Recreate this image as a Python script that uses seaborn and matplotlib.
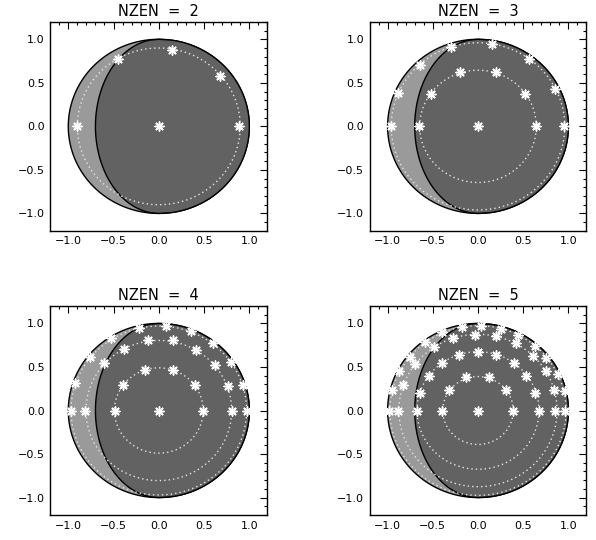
import numpy as np
import pandas as pd
import seaborn as sns
import matplotlib.pyplot as plt
from matplotlib.ticker import MultipleLocator

# ------------------------------------------------------------------
# data
# ------------------------------------------------------------------
NZEN = [2, 3, 4, 5]
TERMINATOR = 0.7   # x half-width of the terminator ellipse

# NZEN = 2
x2 = [0.0, 0.89, 0.68, 0.15, -0.45, -0.90]
y2 = [0.0, 0.0, 0.58, 0.88, 0.77, 0.0]
rings2 = [0.90]

# NZEN = 3
x3 = [0.0,
      0.64, 0.52, 0.20, -0.20, -0.52, -0.65,
      0.95, 0.85, 0.56, 0.15, -0.30, -0.64, -0.88, -0.96]
y3 = [0.0,
      0.0, 0.37, 0.62, 0.62, 0.37, 0.0,
      0.0, 0.43, 0.77, 0.95, 0.91, 0.71, 0.38, 0.0]
rings3 = [0.645, 0.96]

# NZEN = 4
x4 = [0.0,
      0.49, 0.40, 0.16, -0.15, -0.395, -0.487,
      0.805, 0.76, 0.62, 0.41, 0.16, -0.118, -0.384, -0.606, -0.81,
      0.97, 0.927, 0.797, 0.60, 0.354, 0.078, -0.218, -0.524, -0.764, -0.93, -0.975]
y4 = [0.0,
      0.0, 0.29, 0.47, 0.47, 0.29, 0.0,
      0.0, 0.28, 0.52, 0.69, 0.81, 0.81, 0.71, 0.54, 0.0,
      0.0, 0.29, 0.56, 0.77, 0.91, 0.97, 0.95, 0.83, 0.615, 0.32, 0.0]
rings4 = [0.49, 0.805, 0.97]

# NZEN = 5
x5 = [0.0,
      0.39, 0.314, 0.118, -0.128, -0.32, -0.394,
      0.672, 0.635, 0.536, 0.395, 0.203, 0.0, -0.21, -0.40, -0.546, -0.646, -0.675,
      0.849, 0.842, 0.75, 0.609, 0.417, 0.196, -0.037, -0.277, -0.487, -0.70, -0.83, -0.886,
      0.96, 0.96, 0.886, 0.757, 0.628, 0.443, 0.251, 0.037, -0.173, -0.394, -0.59, -0.749,
      -0.878, -0.952, -0.985]
y5 = [0.0,
      0.0, 0.23, 0.38, 0.38, 0.23, 0.0,
      0.0, 0.20, 0.40, 0.55, 0.64, 0.67, 0.64, 0.55, 0.40, 0.20, 0.0,
      0.0, 0.23, 0.45, 0.63, 0.78, 0.85, 0.87, 0.83, 0.73, 0.53, 0.29, 0.0,
      0.0, 0.22, 0.42, 0.60, 0.74, 0.865, 0.94, 0.97, 0.96, 0.90, 0.79, 0.62,
      0.45, 0.23, 0.0]
rings5 = [0.39, 0.675, 0.875, 0.975]

PANELS = [(x2, y2, rings2), (x3, y3, rings3), (x4, y4, rings4), (x5, y5, rings5)]

# axes boxes in figure fractions (left, bottom, width, height)
BOXES = [
    (0.0842, 0.5725, 0.3645, 0.3870),
    (0.6200, 0.5725, 0.3640, 0.3870),
    (0.0842, 0.0463, 0.3645, 0.3870),
    (0.6200, 0.0463, 0.3640, 0.3870),
]

LIGHT = "#9a9a9a"
DARK = "#626262"

sns.set_style("white")
plt.rcParams["font.family"] = ["DejaVu Sans"]

fig = plt.figure(figsize=(5.96, 5.40), dpi=100)

t = np.linspace(0, 2 * np.pi, 361)
yy = np.linspace(1, -1, 201)

for n, (xs, ys, rings), box in zip(NZEN, PANELS, BOXES):
    ax = fig.add_axes(box)

    # full disc (light crescent shows on the left)
    ax.fill(np.cos(t), np.sin(t), facecolor=LIGHT, edgecolor="black", lw=1.0, zorder=1)
    # dark part: terminator on the left, limb on the right
    xl = -TERMINATOR * np.sqrt(1 - yy ** 2)
    xr = np.sqrt(1 - yy ** 2)
    ax.fill(np.concatenate([xl, xr[::-1]]), np.concatenate([yy, yy[::-1]]),
            facecolor=DARK, edgecolor="black", lw=1.0, zorder=2)

    # dotted rings
    for r in rings:
        ring = pd.DataFrame({"x": r * np.cos(t), "y": r * np.sin(t)})
        sns.lineplot(data=ring, x="x", y="y", sort=False, estimator=None, ax=ax,
                     color="#e6e6e6", lw=1.0, linestyle=(0, (1, 2.2)), zorder=3)

    pts = pd.DataFrame({"x": xs, "y": ys})
    sns.scatterplot(data=pts, x="x", y="y", ax=ax, marker=(8, 2, 0), s=42,
                    color="white", edgecolor="white", linewidth=1.1, zorder=4)

    ax.set_xlim(-1.2, 1.2)
    ax.set_ylim(-1.2, 1.2)
    ax.xaxis.set_major_locator(MultipleLocator(0.5))
    ax.yaxis.set_major_locator(MultipleLocator(0.5))
    ax.xaxis.set_minor_locator(MultipleLocator(0.1))
    ax.yaxis.set_minor_locator(MultipleLocator(0.1))
    ax.tick_params(which="both", direction="in", top=True, right=True,
                   labelsize=8, colors="black", width=0.8)
    ax.tick_params(which="major", length=5, pad=4)
    ax.tick_params(which="minor", length=2.5)
    for sp in ax.spines.values():
        sp.set_linewidth(1.0)
        sp.set_color("black")
    ax.set_xlabel("")
    ax.set_ylabel("")
    ax.set_title(f"NZEN  =  {n}", fontsize=10.5, pad=4, color="black")

fig.savefig("out.png", dpi=100)
